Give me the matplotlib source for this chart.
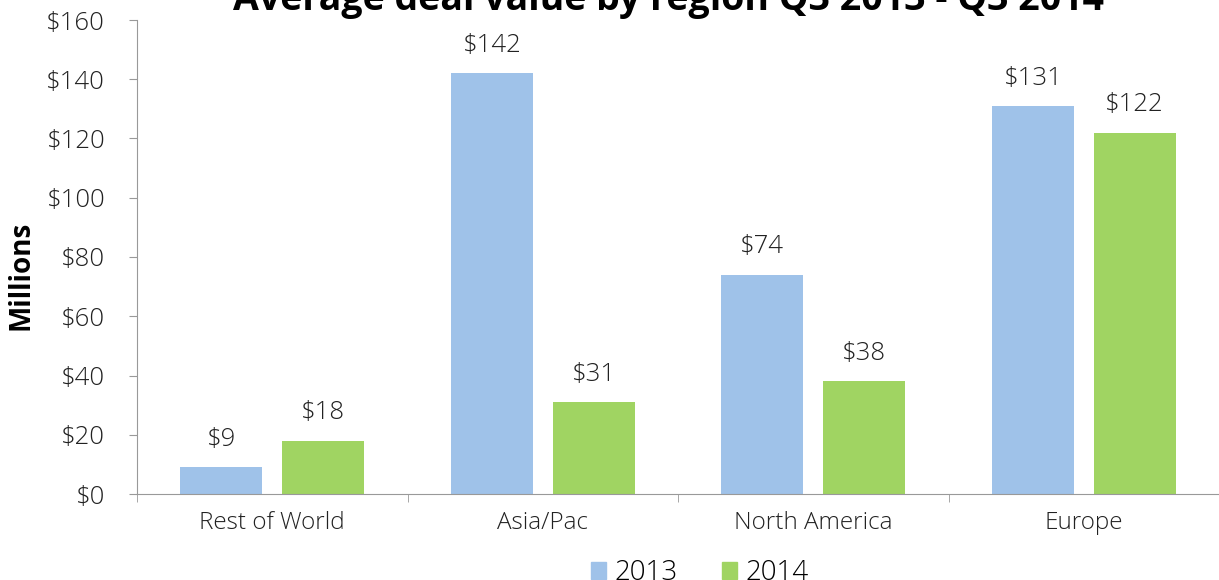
import numpy as np
import matplotlib
matplotlib.use('Agg')
import matplotlib.pyplot as plt
from matplotlib.patches import Patch

plt.rcParams['font.family'] = ['Open Sans', 'DejaVu Sans']
plt.rcParams['font.weight'] = 'light'

regions = ['Rest of World', 'Asia/Pac', 'North America', 'Europe']
values_2013 = [9, 142, 74, 131]
values_2014 = [18, 31, 38, 122]
years = ['2013', '2014']
colors = ['#9fc2e9', '#a0d462']

fig = plt.figure(figsize=(12.19, 5.8), dpi=100)
ax = fig.add_axes([137 / 1219, 86 / 580, 1 - 137 / 1219, 474 / 580])

x = np.arange(len(regions))
width = 0.303
offset = 0.188
for vals, dx, c in zip([values_2013, values_2014], [-offset, offset], colors):
    bars = ax.bar(x + dx, vals, width, color=c)
    for b, v in zip(bars, vals):
        ax.annotate(f'${v}', (b.get_x() + b.get_width() / 2, v),
                    xytext=(0, 11), textcoords='offset points',
                    ha='center', va='bottom', fontsize=18.5, color='#222222')

ax.set_xlim(-0.5, 3.5)
ax.set_ylim(0, 160)
ax.set_yticks(range(0, 161, 20))
ax.set_yticklabels([f'${t}' for t in range(0, 161, 20)], fontsize=18.5, color='#222222')
ax.set_xticks(x)
ax.set_xticklabels(regions, fontsize=17.5, color='#222222')
ax.tick_params(axis='x', length=0, pad=12)
ax.set_xticks(np.arange(-0.5, 3.6, 1), minor=True)
ax.tick_params(axis='x', which='minor', length=6, color='#999999')
ax.tick_params(axis='y', length=6, color='#999999', pad=17)

for s in ['top', 'right']:
    ax.spines[s].set_visible(False)
for s in ['left', 'bottom']:
    ax.spines[s].set_color('#999999')

ax.set_ylabel('Millions', fontsize=20, fontweight='bold')
ax.yaxis.set_label_coords(-0.094, 0.462)

fig.text(0.548, 0.983, 'Average deal value by region Q3 2013 - Q3 2014',
         ha='center', va='baseline', fontsize=27, fontweight='bold')

handles = [Patch(color=c) for c in colors]
fig.legend(handles, years, loc='center', bbox_to_anchor=(0.574, 0.012),
           ncol=2, frameon=False, fontsize=20, handlelength=0.55, handleheight=0.55,
           handletextpad=0.3, columnspacing=1.6)

fig.savefig('out.png', dpi=100)
